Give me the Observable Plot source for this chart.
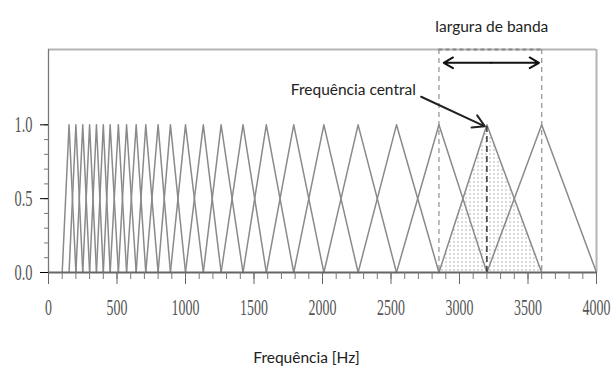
<!DOCTYPE html>
<html>
<head>
<meta charset="utf-8">
<script src="https://cdn.jsdelivr.net/npm/d3@7"></script>
<script src="https://cdn.jsdelivr.net/npm/@observablehq/plot@0.6"></script>
<style>
  body { margin: 0; background: #fff; }
  #chart svg { display: block; }
</style>
</head>
<body>
<div id="chart"></div>
<script>
// Filter-bank edge/centre frequencies (Hz): feet and peaks of the triangles
const filterPoints = [100, 150, 200, 250, 300, 350, 400, 450, 510, 570, 640, 710, 800, 890,
  1000, 1130, 1260, 1420, 1590, 1790, 2010, 2260, 2540, 2850, 3200, 3600, 4000];
// Highlighted filter (lower edge, centre, upper edge)
const bandLow = 2850, bandCenter = 3200, bandHigh = 3600;
// Axis ticks
const xMajorTicks = [0, 500, 1000, 1500, 2000, 2500, 3000, 3500, 4000];
const xMinorTicks = d3.range(0, 4001, 100);
const yMajorTicks = [0, 0.5, 1.0];
const yMinorTicks = d3.range(0, 1.01, 0.1);
const xDomain = [0, 4000];
const yDomain = [0, 1.51];
// Texts
const xLabel = "Frequência [Hz]";
const bandLabel = "largura de banda";
const centerLabel = "Frequência central";

// Build triangle vertices from filterPoints
const tri = [];
for (let i = 0; i + 2 < filterPoints.length; i++) {
  tri.push({k: i, f: filterPoints[i], a: 0});
  tri.push({k: i, f: filterPoints[i + 1], a: 1});
  tri.push({k: i, f: filterPoints[i + 2], a: 0});
}
const shaded = [{f: bandLow, a: 0}, {f: bandCenter, a: 1}, {f: bandHigh, a: 0}];

const stretch = (sx, sy) => (index, scales, values, dims, ctx, next) => {
  const g = next(index, scales, values, dims, ctx);
  d3.select(g).selectAll("text").attr("transform", function () {
    return (this.getAttribute("transform") || "") + ` scale(${sx},${sy})`;
  });
  return g;
};

const defs = () => {
  const d = d3.create("svg:defs");
  const p = d.append("pattern").attr("id", "dots").attr("width", 4).attr("height", 4)
    .attr("patternUnits", "userSpaceOnUse");
  p.append("circle").attr("cx", 2).attr("cy", 2).attr("r", 0.7).attr("fill", "#9a9a9a");
  return d.node();
};

const serif = "'Liberation Serif', 'DejaVu Serif', serif";
const sans = "Lato, 'Open Sans', sans-serif";

const chart = Plot.plot({
  width: 611,
  height: 372,
  marginLeft: 48,
  marginRight: 15,
  marginTop: 49,
  marginBottom: 100,
  style: {background: "#fff", overflow: "visible"},
  x: {domain: xDomain, axis: null},
  y: {domain: yDomain, axis: null},
  marks: [
    defs,
    // shaded highlighted filter
    Plot.areaY(shaded, {x: "f", y: "a", fill: "url(#dots)"}),
    // frame: top and right
    Plot.ruleY([yDomain[1]], {stroke: "#b5b5b5", strokeWidth: 2}),
    Plot.ruleX([xDomain[1]], {stroke: "#b5b5b5", strokeWidth: 2}),
    // bandwidth dashed guides
    Plot.ruleX([bandLow, bandHigh], {stroke: "#999", strokeDasharray: "5,4", strokeWidth: 1.3}),
    Plot.ruleY([yDomain[1]], {x1: bandLow, x2: bandHigh, stroke: "#888", strokeDasharray: "4,3", strokeWidth: 2}),
    // triangles
    Plot.line(tri, {x: "f", y: "a", z: "k", stroke: "#8a8a8a", strokeWidth: 1.5}),
    // centre dashed line
    Plot.ruleX([bandCenter], {y1: 0, y2: 1, stroke: "#333", strokeDasharray: "6,4", strokeWidth: 1.5}),
    // axis lines
    Plot.ruleX([0], {stroke: "#777", strokeWidth: 1.3}),
    Plot.ruleY([0], {stroke: "#666", strokeWidth: 1.8}),
    // x ticks
    Plot.axisX(xMinorTicks, {anchor: "bottom", tickSize: 7, tickFormat: () => "", stroke: "#777"}),
    Plot.axisX(xMajorTicks, {anchor: "bottom", tickSize: 12, tickFormat: () => "", stroke: "#666"}),
    Plot.axisX(xMajorTicks, {anchor: "bottom", tickSize: 0, tickPadding: 27, fontSize: 16,
      tickFormat: d => String(d), fontFamily: serif, fill: "#555", render: stretch(0.87, 1.4)}),
    // y ticks
    Plot.axisY(yMinorTicks, {anchor: "left", tickSize: 4, tickFormat: () => "", stroke: "#777"}),
    Plot.axisY(yMajorTicks, {anchor: "left", tickSize: 8, tickPadding: 8, fontSize: 16,
      tickFormat: d3.format(".1f"), fontFamily: serif, fill: "#555", render: stretch(0.9, 1.4)}),
    // bandwidth double arrow
    Plot.arrow([{x1: 3230, x2: 2885}, {x1: 3230, x2: 3580}],
      {x1: "x1", x2: "x2", y1: 1.42, y2: 1.42, stroke: "#111", strokeWidth: 2, headLength: 8}),
    // annotation arrow
    Plot.arrow([{x1: 2720, y1: 1.19, x2: 3185, y2: 0.99}],
      {x1: "x1", y1: "y1", x2: "x2", y2: "y2", bend: 0, stroke: "#222", strokeWidth: 2, headLength: 10}),
    // texts
    Plot.text([bandLabel], {x: 3236, y: 1.665, text: d => d, fontFamily: sans, fontSize: 15.5, fill: "#222"}),
    Plot.text([centerLabel], {x: 2225, y: 1.235, text: d => d, fontFamily: sans, fontSize: 15.5, fill: "#222"}),
    Plot.text([xLabel], {frameAnchor: "bottom", dx: -16, dy: 90, text: d => d, fontFamily: sans, fontSize: 15.5, fill: "#222"})
  ]
});
document.getElementById("chart").append(chart);
</script>
</body>
</html>
